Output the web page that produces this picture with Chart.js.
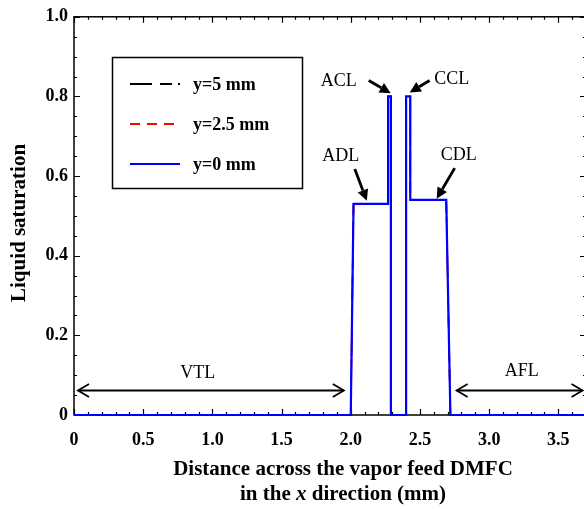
<!DOCTYPE html>
<html>
<head>
<meta charset="utf-8">
<script src="https://cdn.jsdelivr.net/npm/chart.js@4.4.0/dist/chart.umd.min.js"></script>
<style>
  html, body { margin: 0; padding: 0; background: #fff; overflow: hidden; }
  #wrap { width: 586px; height: 509px; }
</style>
</head>
<body>
<div id="wrap"><canvas id="satChart" width="586" height="509"></canvas></div>
<script>
// Liquid saturation across the vapor feed DMFC

// === Data ===
const distX   = [0, 2.0, 2.02, 2.27, 2.27, 2.29, 2.29, 2.40, 2.40, 2.43, 2.43, 2.69, 2.72, 3.70];
const satY5   = [0, 0,   0.53, 0.53, 0.80, 0.80, 0,    0,    0.80, 0.80, 0.54, 0.54, 0,    0];
const satY25  = [0, 0,   0.53, 0.53, 0.80, 0.80, 0,    0,    0.80, 0.80, 0.54, 0.54, 0,    0];
const satY0   = [0, 0,   0.53, 0.53, 0.80, 0.80, 0,    0,    0.80, 0.80, 0.54, 0.54, 0,    0];
const seriesNames = ["y=5 mm", "y=2.5 mm", "y=0 mm"];

const xTicks = [0, 0.5, 1.0, 1.5, 2.0, 2.5, 3.0, 3.5];
const xTickLabels = ["0", "0.5", "1.0", "1.5", "2.0", "2.5", "3.0", "3.5"];
const yTicks = [0, 0.2, 0.4, 0.6, 0.8, 1.0];
const yTickLabels = ["0", "0.2", "0.4", "0.6", "0.8", "1.0"];

const SERIF = '"Liberation Serif", "Times New Roman", serif';

const toPts = ys => distX.map((x, i) => ({ x: x, y: ys[i] }));

// layer callouts, placed in data units
const callouts = [
  { text: "ACL", tx: 1.913, ty: 0.838, from: [2.130, 0.840], to: [2.289, 0.808] },
  { text: "CCL", tx: 2.729, ty: 0.843, from: [2.570, 0.840], to: [2.426, 0.810] },
  { text: "ADL", tx: 1.928, ty: 0.650, from: [2.029, 0.618], to: [2.116, 0.538] },
  { text: "CDL", tx: 2.780, ty: 0.653, from: [2.751, 0.620], to: [2.621, 0.543] }
];
const spans = [
  { text: "VTL", tx: 0.895, ty: 0.106, x1: 0.029, x2: 1.95, y: 0.0625 },
  { text: "AFL", tx: 3.235, ty: 0.110, x1: 2.765, x2: 3.675, y: 0.0625 }
];

function filledArrow(ctx, x1, y1, x2, y2){
  const a = Math.atan2(y2 - y1, x2 - x1);
  const len = 11, hw = 5.5;
  ctx.beginPath();
  ctx.moveTo(x1, y1);
  ctx.lineTo(x2 - len * Math.cos(a), y2 - len * Math.sin(a));
  ctx.stroke();
  ctx.beginPath();
  ctx.moveTo(x2, y2);
  ctx.lineTo(x2 - len * Math.cos(a) + hw * Math.sin(a), y2 - len * Math.sin(a) - hw * Math.cos(a));
  ctx.lineTo(x2 - len * Math.cos(a) - hw * Math.sin(a), y2 - len * Math.sin(a) + hw * Math.cos(a));
  ctx.closePath();
  ctx.fill();
}

function openHead(ctx, x, y, dir){
  ctx.beginPath();
  ctx.moveTo(x - dir * 11, y - 6.5);
  ctx.lineTo(x, y);
  ctx.lineTo(x - dir * 11, y + 6.5);
  ctx.stroke();
}

// frame + inward ticks (under the lines)
const framePlugin = {
  id: "frame",
  beforeDatasetsDraw(chart){
    const { ctx, chartArea: a, scales: { x, y } } = chart;
    ctx.save();
    ctx.strokeStyle = "#000";
    ctx.lineWidth = 1.5;
    ctx.strokeRect(a.left, a.top, a.right - a.left, a.bottom - a.top);
    ctx.lineWidth = 1.2;
    for (let i = 0; i <= 37; i++){
      const v = i / 10;
      if (v > x.max) break;
      const px = Math.round(x.getPixelForValue(v)) + 0.5;
      const len = (i % 5 === 0) ? 6 : 3;
      ctx.beginPath();
      ctx.moveTo(px, a.bottom); ctx.lineTo(px, a.bottom - len);
      ctx.moveTo(px, a.top); ctx.lineTo(px, a.top + len);
      ctx.stroke();
    }
    for (let i = 0; i <= 20; i++){
      const py = Math.round(y.getPixelForValue(i / 20)) + 0.5;
      const len = (i % 4 === 0) ? 6 : 3;
      ctx.beginPath();
      ctx.moveTo(a.left, py); ctx.lineTo(a.left + len, py);
      ctx.moveTo(a.right, py); ctx.lineTo(a.right - len, py);
      ctx.stroke();
    }
    ctx.restore();
  },
  afterDraw(chart){
    const { ctx, chartArea: a, scales: { x, y } } = chart;
    ctx.save();
    ctx.fillStyle = "#000";
    ctx.strokeStyle = "#000";

    // axis titles
    ctx.font = "bold 21px " + SERIF;
    ctx.textAlign = "center";
    ctx.textBaseline = "middle";
    ctx.save();
    ctx.translate(20, 223);
    ctx.rotate(-Math.PI / 2);
    ctx.fillText("Liquid saturation", 0, 0);
    ctx.restore();
    const cx = 343;
    ctx.fillText("Distance across the vapor feed DMFC", cx, 470);
    // second line with italic x
    const p1 = "in the ", p2 = "x", p3 = " direction (mm)";
    const w1 = ctx.measureText(p1).width, w3 = ctx.measureText(p3).width;
    ctx.font = "italic bold 21px " + SERIF;
    const w2 = ctx.measureText(p2).width;
    const sx = cx - (w1 + w2 + w3) / 2;
    ctx.textAlign = "left";
    ctx.font = "bold 21px " + SERIF;
    ctx.fillText(p1, sx, 495);
    ctx.font = "italic bold 21px " + SERIF;
    ctx.fillText(p2, sx + w1, 495);
    ctx.font = "bold 21px " + SERIF;
    ctx.fillText(p3, sx + w1 + w2, 495);

    // legend box
    ctx.lineWidth = 1.5;
    ctx.strokeRect(112.5, 57.5, 190, 131);
    const rows = [84, 124, 164];
    chart.data.datasets.forEach((ds, i) => {
      ctx.save();
      ctx.strokeStyle = ds.borderColor;
      ctx.lineWidth = 2;
      ctx.setLineDash(ds.borderDash || []);
      ctx.beginPath();
      ctx.moveTo(130, rows[i]); ctx.lineTo(180, rows[i]);
      ctx.stroke();
      ctx.restore();
      ctx.font = "bold 18px " + SERIF;
      ctx.textAlign = "left";
      ctx.fillText(ds.label, 193, rows[i] + 1);
    });

    // callouts
    ctx.font = "18px " + SERIF;
    ctx.textAlign = "center";
    ctx.lineWidth = 2.8;
    callouts.forEach(c => {
      ctx.fillText(c.text, x.getPixelForValue(c.tx), y.getPixelForValue(c.ty));
      filledArrow(ctx,
        x.getPixelForValue(c.from[0]), y.getPixelForValue(c.from[1]),
        x.getPixelForValue(c.to[0]), y.getPixelForValue(c.to[1]));
    });
    ctx.lineWidth = 1.8;
    spans.forEach(s => {
      ctx.fillText(s.text, x.getPixelForValue(s.tx), y.getPixelForValue(s.ty));
      const x1 = x.getPixelForValue(s.x1), x2 = x.getPixelForValue(s.x2);
      const py = Math.round(y.getPixelForValue(s.y)) + 0.5;
      ctx.beginPath();
      ctx.moveTo(x1, py); ctx.lineTo(x2, py);
      ctx.stroke();
      openHead(ctx, x1, py, -1);
      openHead(ctx, x2, py, 1);
    });
    ctx.restore();
  }
};

new Chart(document.getElementById("satChart"), {
  type: "scatter",
  data: {
    datasets: [
      { label: seriesNames[0], data: toPts(satY5), borderColor: "#000000", borderWidth: 1.6, borderDash: [22, 8, 12, 6, 2, 6], order: 3 },
      { label: seriesNames[1], data: toPts(satY25), borderColor: "#ff0000", borderWidth: 1.6, borderDash: [10, 7], order: 2 },
      { label: seriesNames[2], data: toPts(satY0), borderColor: "#0000ff", borderWidth: 2.2, order: 1 }
    ].map(d => Object.assign(d, { showLine: true, pointRadius: 0, tension: 0, clip: false, fill: false }))
  },
  options: {
    responsive: false,
    devicePixelRatio: 1,
    animation: false,
    layout: { padding: { top: 15, right: 0, bottom: 0, left: 0 } },
    plugins: { legend: { display: false }, tooltip: { enabled: false } },
    scales: {
      x: {
        type: "linear",
        min: 0,
        max: 3.70,
        grid: { display: false, drawTicks: false },
        border: { display: false },
        afterBuildTicks: s => { s.ticks = xTicks.map(v => ({ value: v })); },
        afterFit: s => { s.height = 94; },
        ticks: {
          padding: 15,
          color: "#000",
          maxRotation: 0,
          font: { family: SERIF, weight: "bold", size: 18 },
          callback: v => xTickLabels[xTicks.indexOf(v)]
        }
      },
      y: {
        type: "linear",
        min: 0,
        max: 1.0,
        grid: { display: false, drawTicks: false },
        border: { display: false },
        afterBuildTicks: s => { s.ticks = yTicks.map(v => ({ value: v })); },
        afterFit: s => { s.width = 74; },
        ticks: {
          padding: 6,
          color: "#000",
          font: { family: SERIF, weight: "bold", size: 18 },
          callback: v => yTickLabels[yTicks.indexOf(v)]
        }
      }
    }
  },
  plugins: [framePlugin]
});
</script>
</body>
</html>
